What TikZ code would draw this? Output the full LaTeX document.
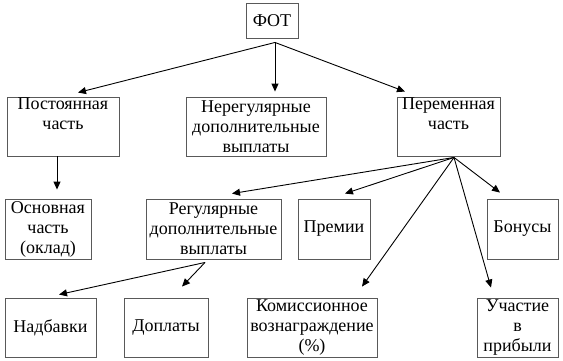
\documentclass[tikz,border=0pt]{standalone}
\usepackage{fontspec}
\setmainfont{Liberation Serif}
\usetikzlibrary{arrows.meta,calc}
\begin{document}
\begin{tikzpicture}[x=1pt,y=-1pt,
  box/.style={draw=black!65,line width=0.9pt,inner sep=0pt,align=center,
    font=\fontsize{18}{20}\selectfont,minimum height=59pt},
  arr/.style={draw=black,line width=0.9pt,-{Triangle[length=8pt,width=7pt]}}]
\useasboundingbox (0,0) rectangle (563,360);
% top
\node[box,minimum width=52pt,minimum height=35pt] (fot) at (272,20.5) {ФОТ};
% second row
\node[box,minimum width=112pt] (post) at (63,126.5) {Постоянная\\часть\\\strut};
\node[box,minimum width=140pt] (nereg) at (256,126.5) {Нерегулярные\\дополнительные\\выплаты};
\node[box,minimum width=103pt] (perem) at (448.5,126.5) {Переменная\\часть\\\strut};
% third row
\node[box,minimum width=86pt,minimum height=60pt] (osn) at (48,229) {Основная\\часть\\(оклад)};
\node[box,minimum width=135pt,minimum height=60pt] (reg) at (213.5,229) {Регулярные\\дополнительные\\выплаты};
\node[box,minimum width=72pt,minimum height=60pt] (prem) at (334,229) {Премии};
\node[box,minimum width=71pt,minimum height=60pt] (bonus) at (522.5,229) {Бонусы};
% fourth row
\node[box,minimum width=91pt] (nadb) at (50.5,327.5) {Надбавки};
\node[box,minimum width=84pt] (dopl) at (166,327.5) {Доплаты};
\node[box,minimum width=130pt] (kom) at (312,327.5) {Комиссионное\\вознаграждение\\(\%)};
\node[box,minimum width=81pt] (uch) at (517.5,327.5) {Участие\\в\\прибыли};
% connectors
\coordinate (fo) at ($(fot.south)+(3,4)$);
\draw[arr] (fo) -- ($(post.north)+(15,-4)$);
\draw[arr] (fo) -- ($(nereg.north)+(19,-5)$);
\draw[arr] (fo) -- ($(perem.north)+(-43.5,-5)$);
\draw[arr] ($(post.south)+(-6,0)$) -- ($(osn.north)+(9,-9)$);
\coordinate (po) at ($(perem.south)+(5.5,1)$);
\draw[arr] (po) -- ($(reg.north)+(18.5,-5)$);
\draw[arr] (po) -- ($(prem.north)+(11,-5)$);
\draw[arr] (po) -- ($(bonus.north)+(-22.5,-6)$);
\draw[arr] (po) -- ($(kom.north)+(50,-11)$);
\draw[arr] (po) -- ($(uch.north)+(-26.5,-10)$);
\coordinate (ro) at ($(reg.south)+(-8.5,3)$);
\draw[arr] (ro) -- ($(nadb.north)+(8.5,-3)$);
\draw[arr] (ro) -- ($(dopl.north)+(16,-11)$);
\end{tikzpicture}
\end{document}
